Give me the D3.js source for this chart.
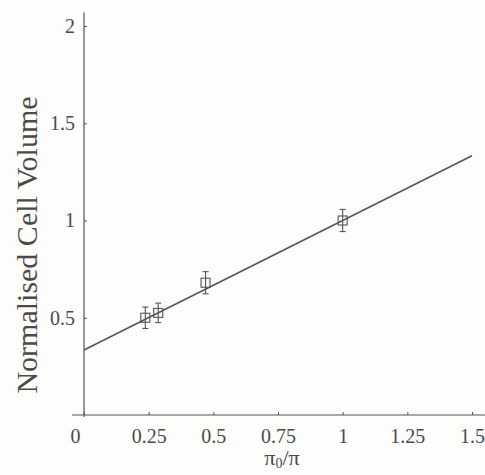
<!DOCTYPE html>
<html>
<head>
<meta charset="utf-8">
<script src="https://cdn.jsdelivr.net/npm/d3@7"></script>
<style>
  body { margin: 0; background: #fdfdfc; }
  svg { display: block; }
  text { font-family: "Liberation Serif", "DejaVu Serif", serif; fill: #4a4a4a; }
</style>
</head>
<body>
<svg width="485" height="475"></svg>
<script>
// measured points (pi0/pi, normalised volume, error)
var xVals = [0.237, 0.287, 0.47, 1.0];
var yVals = [0.50, 0.525, 0.68, 1.0];
var yErr = [0.055, 0.05, 0.057, 0.057];
// fitted line
var fitX = [0, 1.5];
var fitY = [0.334, 1.333];

var xTicks = [0, 0.25, 0.5, 0.75, 1, 1.25, 1.5];
var xTickLabels = ["0", "0.25", "0.5", "0.75", "1", "1.25", "1.5"];
var yTicks = [0.5, 1, 1.5, 2];
var yTickLabels = ["0.5", "1", "1.5", "2"];

var ink = "#555";
var svg = d3.select("svg");

const xscale = d3.scaleLinear().domain([0, 1.5]).range([84, 472]);
const yscale = d3.scaleLinear().domain([0, 2]).range([415, 26]);

// axes lines
svg.append("line")
    .attr("x1", xscale(-0.046)).attr("x2", xscale(1.555))
    .attr("y1", yscale(0)).attr("y2", yscale(0))
    .attr("stroke", ink).attr("stroke-width", 1.2);
svg.append("line")
    .attr("x1", xscale(0)).attr("x2", xscale(0))
    .attr("y1", yscale(-0.01)).attr("y2", yscale(2.07))
    .attr("stroke", ink).attr("stroke-width", 1.2);

// x ticks
const xAxis = d3.axisBottom(xscale).tickValues(xTicks).tickSize(-3).tickPadding(14)
    .tickFormat(function (d, i) { return xTickLabels[i]; });
var gx = svg.append("g").attr("transform", `translate(0, ${yscale(0)})`).call(xAxis);
gx.select(".domain").remove();
gx.selectAll(".tick line").attr("stroke", ink);
gx.selectAll(".tick text").attr("font-size", 20).attr("fill", "#4a4a4a")
    .attr("dx", function (d) { return d == 0 ? -9 : 0; });

// y ticks
const yAxis = d3.axisLeft(yscale).tickValues(yTicks).tickSize(-3).tickPadding(9)
    .tickFormat(function (d, i) { return yTickLabels[i]; });
var gy = svg.append("g").attr("transform", `translate(${xscale(0)}, 0)`).call(yAxis);
gy.select(".domain").remove();
gy.selectAll(".tick line").attr("stroke", ink);
gy.selectAll(".tick text").attr("font-size", 20).attr("fill", "#4a4a4a");

// fitted line
var line = d3.line()
    .x(function (d) { return xscale(d[0]); })
    .y(function (d) { return yscale(d[1]); });
svg.append("path")
    .datum(fitX.map(function (x, i) { return [x, fitY[i]]; }))
    .attr("d", line)
    .attr("fill", "none").attr("stroke", ink).attr("stroke-width", 1.6);

// error bars and square markers
var pts = xVals.map(function (x, i) { return { x: x, y: yVals[i], e: yErr[i] }; });
var g = svg.append("g").attr("stroke", ink).attr("stroke-width", 1.1).attr("fill", "none");
pts.forEach(function (p) {
    var cx = xscale(p.x), cy = yscale(p.y);
    var top = yscale(p.y + p.e), bot = yscale(p.y - p.e);
    g.append("line").attr("x1", cx).attr("x2", cx).attr("y1", top).attr("y2", bot);
    g.append("line").attr("x1", cx - 3).attr("x2", cx + 3).attr("y1", top).attr("y2", top);
    g.append("line").attr("x1", cx - 3).attr("x2", cx + 3).attr("y1", bot).attr("y2", bot);
    g.append("rect").attr("x", cx - 4.5).attr("y", cy - 4.5).attr("width", 9).attr("height", 9);
});

// axis titles
var xt = svg.append("text").attr("x", 282).attr("y", 465)
    .attr("text-anchor", "middle").attr("font-size", 22);
xt.append("tspan").text("\u03c0");
xt.append("tspan").attr("font-size", 14).attr("dy", 3).text("0");
xt.append("tspan").attr("dy", -3).text("/\u03c0");

svg.append("text")
    .attr("transform", "translate(37, 245) rotate(-90)")
    .attr("text-anchor", "middle").attr("font-size", 30)
    .text("Normalised Cell Volume");
</script>
</body>
</html>
